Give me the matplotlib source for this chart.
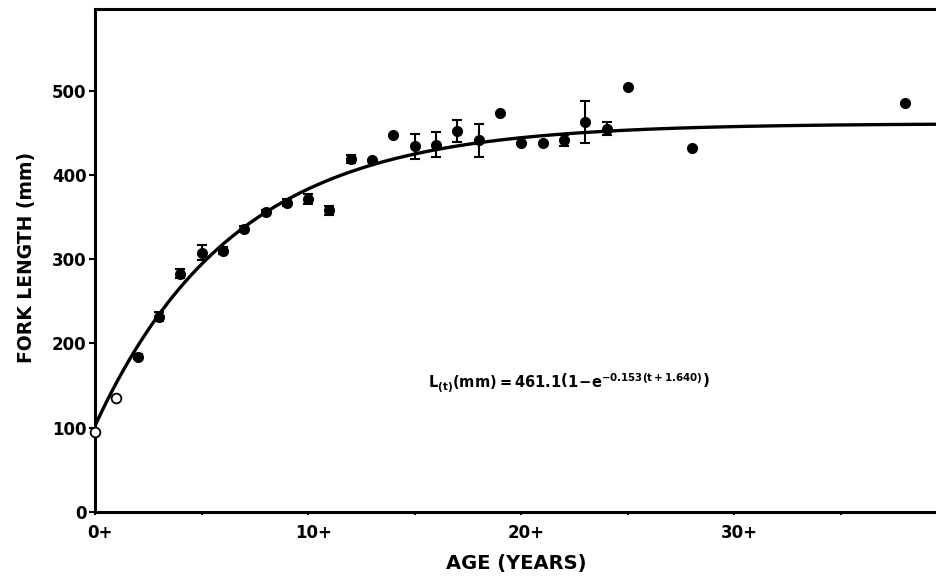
import numpy as np
import matplotlib.pyplot as plt
import matplotlib.transforms as mtransforms

plt.rcParams['font.family'] = ['DejaVu Sans']
plt.rcParams['font.weight'] = 'bold'
plt.rcParams['mathtext.fontset'] = 'custom'
plt.rcParams['mathtext.rm'] = 'DejaVu Sans:bold'
plt.rcParams['mathtext.default'] = 'rm'

# mean fork length by age (mm)
open_age = [0, 1]
open_len = [95, 135]

age = [2, 3, 4, 5, 6, 7, 8, 9, 10, 11, 12, 13, 14, 15, 16, 17, 18, 19, 20,
       21, 22, 23, 24, 25, 28, 38]
length = [184, 232, 283, 308, 310, 336, 356, 367, 372, 358, 419, 418, 448,
          434, 436, 452, 441, 473, 438, 438, 441, 463, 455, 504, 432, 485]
err = [3, 5, 5, 9, 4, 4, 3, 4, 6, 5, 5, 0, 0,
       15, 15, 13, 20, 0, 0, 0, 7, 25, 8, 0, 0, 0]

# von Bertalanffy parameters shown on the chart
Linf, K, t0 = 461.1, 0.153, -1.640

fig = plt.figure(figsize=(9.37, 5.78), dpi=100)
ax = fig.add_axes([0.1014, 0.1142, 0.8986, 0.8702])

t = np.linspace(0, 39.5, 300)
ax.plot(t, Linf * (1 - np.exp(-K * (t - t0))), color='black', lw=2.4, zorder=2)

ax.errorbar(age, length, yerr=err, fmt='o', color='black', ms=7,
            elinewidth=1.5, capsize=3.5, capthick=1.5, zorder=3)
ax.plot(open_age, open_len, 'o', mfc='white', mec='black', ms=7, mew=1.3,
        clip_on=False, zorder=4)

ax.set_xlim(0, 39.5)
ax.set_ylim(0, 597)
ax.set_xticks([0, 10, 20, 30])
ax.set_xticks([5, 15, 25, 35], minor=True)
ax.set_xticklabels(['0+', '10+', '20+', '30+'])
ax.set_yticks([0, 100, 200, 300, 400, 500])
ax.tick_params(axis='x', which='both', length=2.5, width=1.5, pad=6, labelsize=12)
ax.tick_params(axis='y', length=4, width=1.5, pad=2, labelsize=12)
shift = mtransforms.ScaledTranslation(5 / 100, 0, fig.dpi_scale_trans)
for lab in ax.get_xticklabels():
    lab.set_transform(lab.get_transform() + shift)

ax.spines['right'].set_visible(False)
for s in ['left', 'bottom', 'top']:
    ax.spines[s].set_linewidth(2.2)

ax.set_ylabel('FORK LENGTH (mm)', fontsize=13.5, fontweight='bold')
ax.yaxis.set_label_coords(-0.07, 0.507)
ax.set_xlabel('AGE (YEARS)', fontsize=14, fontweight='bold')
ax.xaxis.set_label_coords(0.5, -0.084)

ax.text(0.396, 0.256,
        r'$\mathrm{L_{(t)}(mm) = 461.1\left(1\!-\!e^{-0.153(t+1.640)}\right)}$',
        transform=ax.transAxes, fontsize=10.5, va='center')

fig.savefig('out.png', dpi=100)
